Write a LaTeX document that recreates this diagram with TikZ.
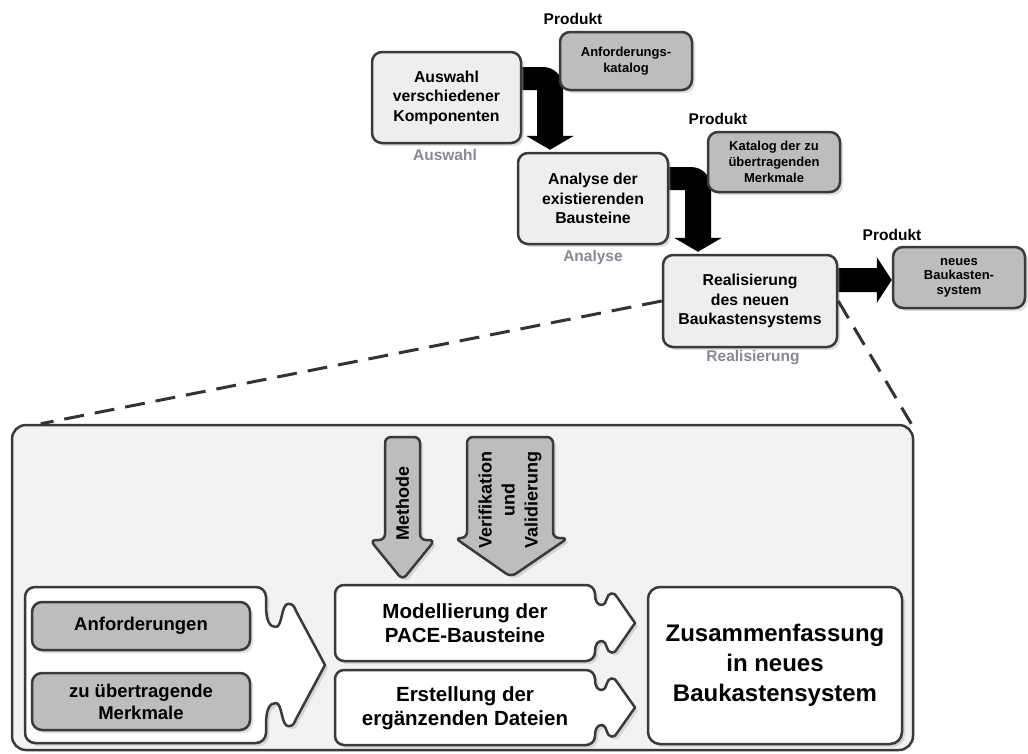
\documentclass[tikz,border=0pt]{standalone}
\usepackage{fontspec}
\setmainfont{Liberation Sans}
\usetikzlibrary{calc,shadows,backgrounds}

\definecolor{rimgray}{HTML}{3A3A3A}
\definecolor{stepfill}{HTML}{EEEEEE}
\definecolor{prodfill}{HTML}{BDBDBD}
\definecolor{panelfill}{HTML}{F2F2F2}
\definecolor{phasegray}{RGB}{135,135,150}
\definecolor{dashgray}{HTML}{333333}

\newcommand{\bendarrow}[2]{%
  \fill[flowarrow] let \p1=(#1), \p2=(#2) in
    (\x1,\y1+11.5pt) -- (\x2-7pt,\y1+11.5pt) arc[start angle=90,end angle=0,radius=20pt]
    -- (\x2+13pt,\y2+14pt) -- (\x2+24pt,\y2+14pt) -- (\x2,\y2) -- (\x2-24pt,\y2+14pt)
    -- (\x2-13pt,\y2+14pt) -- (\x2-13pt,\y1-11.5pt) -- (\x1,\y1-11.5pt) -- cycle;}

\newcommand{\puzzle}[8]{%
  \draw[puzzlebox] (#1,{(#2+#4)/2}) -- (#1,{#2+#8}) arc[start angle=180,end angle=90,radius=#8pt]
    -- ({#3-#8},#2) arc[start angle=90,end angle=0,radius=#8pt]
    -- (#3,{#2+0.45*#7})
    .. controls (#3,{#2+0.85*#7}) and ({#3+0.12*#6},{#2+#7}) .. ({#3+0.33*#6},{#2+#7})
    .. controls ({#3+0.55*#6},{#2+#7}) and ({#3+0.5*#6},{#2+0.42*#7}) .. ({#3+0.75*#6},{#2+0.42*#7})
    .. controls ({#3+0.9*#6},{#2+0.42*#7}) and ({#3+0.95*#6},{#2+0.5*#7}) .. ({#3+#6},{#2+0.6*#7})
    -- (#5,{(#2+#4)/2}) -- ({#3+#6},{#4-0.6*#7})
    .. controls ({#3+0.95*#6},{#4-0.5*#7}) and ({#3+0.9*#6},{#4-0.42*#7}) .. ({#3+0.75*#6},{#4-0.42*#7})
    .. controls ({#3+0.5*#6},{#4-0.42*#7}) and ({#3+0.55*#6},{#4-#7}) .. ({#3+0.33*#6},{#4-#7})
    .. controls ({#3+0.12*#6},{#4-#7}) and (#3,{#4-0.85*#7}) .. (#3,{#4-0.45*#7})
    -- (#3,{#4-#8}) arc[start angle=0,end angle=-90,radius=#8pt]
    -- ({#1+#8},#4) arc[start angle=-90,end angle=-180,radius=#8pt] -- cycle;}

\begin{document}
\begin{tikzpicture}[x=1pt,y=-1pt,
  boxshadow/.style={drop shadow={shadow xshift=3pt,shadow yshift=-3pt,opacity=0.25}},
  stepbox/.style={draw=rimgray,line width=2.5pt,rounded corners=10pt,fill=stepfill,
    align=center,boxshadow,font=\bfseries\fontsize{15.8}{19.5}\selectfont},
  prodbox/.style={draw=rimgray,line width=2.5pt,rounded corners=10pt,fill=prodfill,
    align=center,boxshadow,font=\bfseries\fontsize{13}{16}\selectfont},
  prodlabel/.style={font=\bfseries\fontsize{15.5}{18}\selectfont},
  phaselabel/.style={text=phasegray,font=\bfseries\fontsize{15.5}{18}\selectfont},
  flowarrow/.style={fill=black},
  dashline/.style={draw=dashgray,line width=3pt,dash pattern=on 20pt off 11pt},
  panel/.style={draw=rimgray,line width=2.5pt,rounded corners=14pt,fill=panelfill},
  puzzlebox/.style={draw=rimgray,line width=2.5pt,line join=round,fill=white,boxshadow},
  inputbox/.style={draw=rimgray,line width=2.5pt,rounded corners=10pt,fill=prodfill,
    align=center,boxshadow,font=\bfseries\fontsize{18.5}{22}\selectfont},
  guidearrow/.style={draw=rimgray,line width=2.5pt,rounded corners=6pt,fill=prodfill,boxshadow},
  guidetext/.style={rotate=90,align=center,font=\bfseries\fontsize{18}{23}\selectfont},
  worktext/.style={align=center,font=\bfseries\fontsize{20.5}{24}\selectfont},
  resultbox/.style={draw=rimgray,line width=2.5pt,rounded corners=12pt,fill=white,
    align=center,boxshadow,font=\bfseries\fontsize{24}{30}\selectfont}]
\tikzstyle{every node}+=[inner sep=0pt]
\useasboundingbox (0,0) rectangle (1028,753);
\node[stepbox,minimum width=149,minimum height=91] (auswahl) at (446.5,97.5) {Auswahl\\verschiedener\\Komponenten};
\node[phaselabel] (auswahllbl) at (445,155) {Auswahl};
\node[prodlabel] (produkt1) at (573,19) {Produkt};
\node[prodbox,minimum width=132,minimum height=58] (anfkatalog) at (626,61) {Anforderungs-\\katalog};
\node[stepbox,minimum width=150,minimum height=91] (analyse) at (593,198.5) {Analyse der\\existierenden\\Bausteine};
\node[phaselabel] (analyselbl) at (593,257) {Analyse};
\node[prodlabel] (produkt2) at (718,119) {Produkt};
\node[prodbox,minimum width=132,minimum height=60] (merkkatalog) at (774,162) {Katalog der zu\\übertragenden\\Merkmale};
\node[stepbox,minimum width=174,minimum height=92] (realisierung) at (750,301) {Realisierung\\des neuen\\Baukastensystems};
\node[phaselabel] (realisierunglbl) at (753,358) {Realisierung};
\node[prodlabel] (produkt3) at (892,235) {Produkt};
\node[prodbox,minimum width=132,minimum height=61,font=\bfseries\fontsize{13}{14.5}\selectfont] (neues) at (959,277.5) {neues\\Baukasten-\\system};
\begin{scope}[on background layer]
\bendarrow{[yshift=19pt]auswahl.east}{[xshift=-43pt,yshift=2pt]analyse.north}
\bendarrow{[yshift=20pt]analyse.east}{[xshift=-52pt,yshift=2pt]realisierung.north}
\fill[flowarrow] let \p1=([yshift=21pt]realisierung.east), \p2=(neues.west) in
  (\x1,\y1+12pt) -- (\x2-15pt,\y1+12pt) -- (\x2-15pt,\y1+23pt) -- (\x2,\y1)
  -- (\x2-15pt,\y1-23pt) -- (\x2-15pt,\y1-12pt) -- (\x1,\y1-12pt) -- cycle;
\end{scope}
\node[panel,minimum width=901,minimum height=325] (detail) at (462.5,587.5) {};
\draw[dashline] (realisierung.west) -- ([xshift=30pt]detail.north west);
\draw[dashline] (realisierung.east) -- ([xshift=-3pt]detail.north east);
\draw[guidearrow] (385,540) -- (385,437) -- (420,437) -- (420,540) -- (435,540) -- (402.5,580) -- (370,540) -- cycle;
\node[guidetext] (methode) at (402.5,503) {Methode};
\draw[guidearrow] (467,538) -- (467,437) -- (553,437) -- (553,538) -- (568,538) -- (511,577) -- (455,538) -- cycle;
\node[guidetext] (verifikation) at (510,500) {Verifikation\\und\\Validierung};
\puzzle{25}{587}{266}{743}{325}{30}{40}{10}
\node[inputbox,minimum width=218,minimum height=48] (anforderungen) at (141,626) {Anforderungen};
\node[inputbox,minimum width=218,minimum height=57] (merkmale) at (141,701.5) {zu übertragende\\Merkmale};
\puzzle{335}{585}{595}{661}{635}{22}{20}{9}
\node[worktext] (modellierung) at (465,623) {Modellierung der\\PACE-Bausteine};
\puzzle{335}{670}{595}{745}{635}{22}{20}{9}
\node[worktext] (erstellung) at (465,708) {Erstellung der\\ergänzenden Dateien};
\node[resultbox,minimum width=254,minimum height=157] (zusammenfassung) at (775,665.5) {Zusammenfassung\\in neues\\Baukastensystem};
\end{tikzpicture}
\end{document}
